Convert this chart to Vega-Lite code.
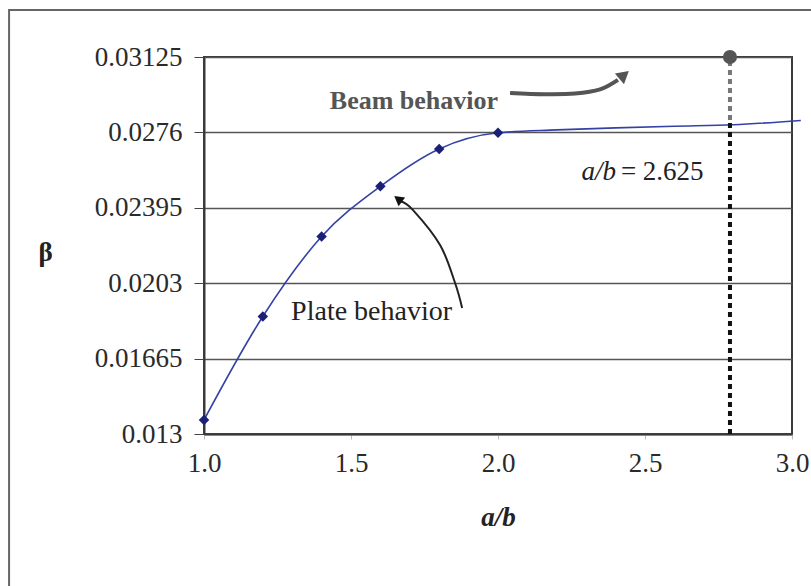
{
  "$schema": "https://vega.github.io/schema/vega-lite/v6.json",
  "width": 588,
  "height": 377,
  "autosize": "none",
  "padding": {"left": 204, "top": 57, "right": 19, "bottom": 152},
  "background": "white",
  "data": {"values": [{}]},
  "config": {
    "view": {"stroke": "#3a3a3a", "strokeWidth": 2},
    "font": "Liberation Serif",
    "axis": {
      "labelFont": "Liberation Serif",
      "labelFontSize": 27,
      "labelColor": "#2a2a2a",
      "titleFont": "Liberation Serif",
      "titleColor": "#222222",
      "labelFlush": false,
      "labelOverlap": false,
      "labelBound": false
    }
  },
  "datasets": {
    "beta": [
      {"ab": 1.0, "beta": 0.01368},
      {"ab": 1.2, "beta": 0.01869},
      {"ab": 1.4, "beta": 0.02256},
      {"ab": 1.6, "beta": 0.02499},
      {"ab": 1.8, "beta": 0.0268},
      {"ab": 2.0, "beta": 0.02758},
      {"ab": 2.2, "beta": 0.02772},
      {"ab": 2.4, "beta": 0.02782},
      {"ab": 2.6, "beta": 0.0279},
      {"ab": 2.8, "beta": 0.02797},
      {"ab": 3.03, "beta": 0.02818}
    ],
    "plateArrow": [
      {"i": 0, "ab": 1.878, "beta": 0.0191},
      {"i": 1, "ab": 1.854, "beta": 0.02031},
      {"i": 2, "ab": 1.803, "beta": 0.02215},
      {"i": 3, "ab": 1.711, "beta": 0.02384},
      {"i": 4, "ab": 1.667, "beta": 0.02428}
    ],
    "beamArrow": [
      {"i": 0, "ab": 2.041, "beta": 0.02951},
      {"i": 1, "ab": 2.16, "beta": 0.02945},
      {"i": 2, "ab": 2.262, "beta": 0.02948},
      {"i": 3, "ab": 2.347, "beta": 0.02968},
      {"i": 4, "ab": 2.408, "beta": 0.03014}
    ]
  },
  "layer": [
    {
      "data": {"name": "beta"},
      "mark": {"type": "line", "color": "#3442a6", "strokeWidth": 1.6, "interpolate": "monotone", "clip": false},
      "encoding": {
        "x": {
          "field": "ab", "type": "quantitative",
          "scale": {"domain": [1, 3], "nice": false, "zero": false},
          "axis": {
            "values": [1, 1.5, 2, 2.5, 3], "format": ".1f", "grid": false,
            "tickSize": 5, "tickColor": "#bbbbbb", "labelPadding": 11,
            "domainColor": "#3a3a3a", "domainWidth": 2,
            "title": "a/b", "titleFontStyle": "italic", "titleFontWeight": "bold",
            "titleFontSize": 27, "titleY": 83, "titleBaseline": "middle"
          }
        },
        "y": {
          "field": "beta", "type": "quantitative",
          "scale": {"domain": [0.013, 0.03125], "nice": false, "zero": false},
          "axis": {
            "values": [0.013, 0.01665, 0.0203, 0.02395, 0.0276, 0.03125],
            "format": ".5~f", "grid": true, "gridColor": "#555555", "gridWidth": 1.3,
            "tickSize": 10, "tickColor": "#444444", "labelPadding": 12,
            "domainColor": "#3a3a3a", "domainWidth": 2,
            "title": "β", "titleAngle": 0, "titleX": -159, "titleY": 195,
            "titleFontSize": 27, "titleFontWeight": "bold", "titleAlign": "center", "titleBaseline": "middle"
          }
        }
      }
    },
    {
      "data": {"name": "beta"},
      "transform": [{"filter": "datum.ab <= 2.0"}],
      "mark": {"type": "point", "shape": "diamond", "filled": true, "size": 110, "color": "#1a1f78", "opacity": 1},
      "encoding": {
        "x": {"field": "ab", "type": "quantitative"},
        "y": {"field": "beta", "type": "quantitative"}
      }
    },
    {
      "mark": {"type": "rect", "fill": null, "stroke": "#666666", "strokeWidth": 2, "clip": false},
      "encoding": {
        "x": {"datum": 0.337, "type": "quantitative"},
        "x2": {"datum": 3.2},
        "y": {"datum": 0.03353, "type": "quantitative"},
        "y2": {"datum": 0.004}
      }
    },
    {
      "mark": {"type": "rule", "color": "#111111", "strokeWidth": 4, "strokeDash": [5, 4]},
      "encoding": {
        "x": {"datum": 2.789, "type": "quantitative"},
        "y": {"datum": 0.013, "type": "quantitative"},
        "y2": {"datum": 0.0282}
      }
    },
    {
      "mark": {"type": "rule", "color": "#777777", "strokeWidth": 4, "strokeDash": [5, 4]},
      "encoding": {
        "x": {"datum": 2.789, "type": "quantitative"},
        "y": {"datum": 0.0282, "type": "quantitative"},
        "y2": {"datum": 0.03125}
      }
    },
    {
      "mark": {"type": "point", "shape": "circle", "filled": true, "size": 200, "color": "#555555", "opacity": 1},
      "encoding": {
        "x": {"datum": 2.789, "type": "quantitative"},
        "y": {"datum": 0.03125, "type": "quantitative"}
      }
    },
    {
      "data": {"name": "plateArrow"},
      "mark": {"type": "line", "color": "#222222", "strokeWidth": 2, "interpolate": "cardinal"},
      "encoding": {
        "x": {"field": "ab", "type": "quantitative"},
        "y": {"field": "beta", "type": "quantitative"},
        "order": {"field": "i", "type": "quantitative"}
      }
    },
    {
      "mark": {"type": "point", "shape": "triangle-up", "filled": true, "size": 120, "angle": 307, "color": "#111111", "opacity": 1},
      "encoding": {
        "x": {"datum": 1.66, "type": "quantitative"},
        "y": {"datum": 0.02438, "type": "quantitative"}
      }
    },
    {
      "data": {"name": "beamArrow"},
      "mark": {"type": "line", "color": "#555555", "strokeWidth": 4, "interpolate": "cardinal"},
      "encoding": {
        "x": {"field": "ab", "type": "quantitative"},
        "y": {"field": "beta", "type": "quantitative"},
        "order": {"field": "i", "type": "quantitative"}
      }
    },
    {
      "mark": {"type": "point", "shape": "triangle-up", "filled": true, "size": 200, "angle": 50, "color": "#555555", "opacity": 1},
      "encoding": {
        "x": {"datum": 2.429, "type": "quantitative"},
        "y": {"datum": 0.03038, "type": "quantitative"}
      }
    },
    {
      "mark": {"type": "text", "text": "Beam behavior", "font": "Liberation Serif", "fontSize": 26, "fontWeight": "bold", "color": "#555555", "align": "center", "baseline": "middle"},
      "encoding": {
        "x": {"datum": 1.714, "type": "quantitative"},
        "y": {"datum": 0.02912, "type": "quantitative"}
      }
    },
    {
      "mark": {"type": "text", "text": "Plate behavior", "font": "Liberation Serif", "fontSize": 28, "color": "#222222", "align": "center", "baseline": "middle"},
      "encoding": {
        "x": {"datum": 1.57, "type": "quantitative"},
        "y": {"datum": 0.01891, "type": "quantitative"}
      }
    },
    {
      "mark": {"type": "text", "text": "a/b", "font": "Liberation Serif", "fontSize": 27, "fontStyle": "italic", "color": "#222222", "align": "right", "baseline": "middle"},
      "encoding": {
        "x": {"datum": 2.401, "type": "quantitative"},
        "y": {"datum": 0.02568, "type": "quantitative"}
      }
    },
    {
      "mark": {"type": "text", "text": "= 2.625", "font": "Liberation Serif", "fontSize": 27, "color": "#222222", "align": "left", "baseline": "middle"},
      "encoding": {
        "x": {"datum": 2.418, "type": "quantitative"},
        "y": {"datum": 0.02568, "type": "quantitative"}
      }
    }
  ]
}
